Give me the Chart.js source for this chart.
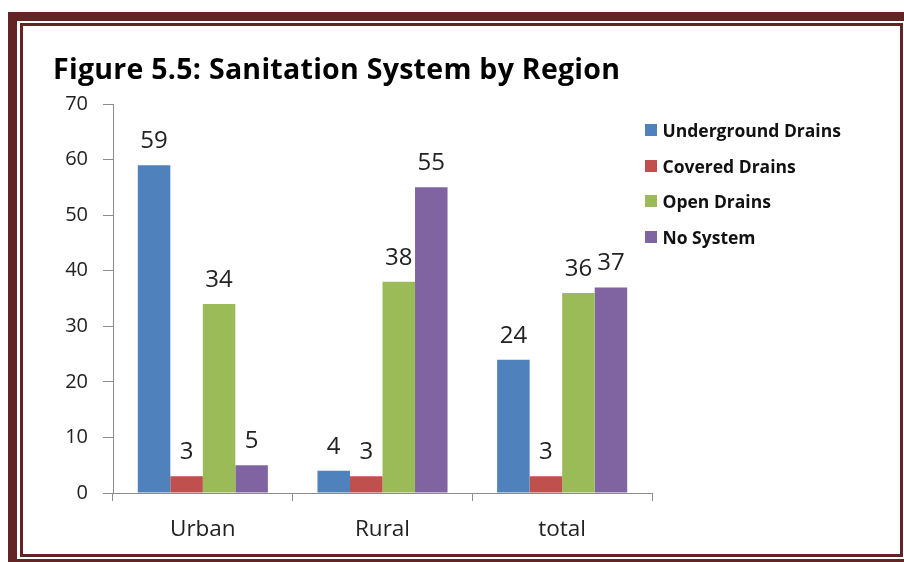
<!DOCTYPE html>
<html>
<head>
<meta charset="utf-8">
<script src="https://cdn.jsdelivr.net/npm/chart.js@4.4.1/dist/chart.umd.min.js"></script>
<style>
  html, body { margin: 0; padding: 0; background: #fff; }
  body { width: 904px; height: 562px; position: relative; overflow: hidden; font-family: "Open Sans", Lato, sans-serif; }
  .frame-outer { position: absolute; left: 8px; top: 12px; width: 920px; height: 556px; box-sizing: border-box; border: 9px solid #632523; }
  .frame-inner { position: absolute; left: 20px; top: 23px; width: 883px; height: 534px; box-sizing: border-box; border: 3px solid #632523; }
  #title { position: absolute; left: 53px; top: 54px; font-weight: 700; font-size: 28.5px; line-height: 28.5px; color: #000; white-space: nowrap; font-variant-ligatures: none; }
  #chartBox { position: absolute; left: 0; top: 0; width: 904px; height: 562px; }
  #legend { position: absolute; left: 645px; top: 112px; }
  .item { display: flex; align-items: center; height: 35.7px; font-weight: 700; font-size: 17.5px; color: #111; white-space: nowrap; }
  .swatch { width: 12px; height: 12px; margin-right: 5.5px; flex: none; }
</style>
</head>
<body>
<div class="frame-outer"></div>
<div class="frame-inner"></div>
<div id="chartBox"><canvas id="c" width="904" height="562"></canvas></div>
<div id="title">Figure 5.5: Sanitation System by Region</div>
<div id="legend"></div>
<script>
// Regions on the x axis
const categories = ["Urban", "Rural", "total"];

// Share of households (%) by sanitation system
const undergroundDrains = [59, 4, 24];
const coveredDrains = [3, 3, 3];
const openDrains = [34, 38, 36];
const noSystem = [5, 55, 37];

const seriesNames = ["Underground Drains", "Covered Drains", "Open Drains", "No System"];
const seriesColors = ["#4F81BD", "#C0504D", "#9BBB59", "#8064A2"];

// Y axis range and step
const yMin = 0;
const yMax = 70;
const yStep = 10;

const seriesValues = [undergroundDrains, coveredDrains, openDrains, noSystem];
const FONT = "'Open Sans', Lato, sans-serif";

// Write value labels above each bar
const valueLabels = {
  id: "valueLabels",
  afterDatasetsDraw(chart) {
    const ctx = chart.ctx;
    ctx.save();
    ctx.font = "24px " + FONT;
    ctx.fillStyle = "#222";
    ctx.textAlign = "center";
    ctx.textBaseline = "alphabetic";
    chart.data.datasets.forEach((ds, i) => {
      const meta = chart.getDatasetMeta(i);
      meta.data.forEach((bar, j) => {
        ctx.fillText(String(ds.data[j]), bar.x, bar.y - 17);
      });
    });
    ctx.restore();
  }
};

const chart = new Chart(document.getElementById("c"), {
  type: "bar",
  data: {
    labels: categories,
    datasets: seriesValues.map((vals, i) => ({
      label: seriesNames[i],
      data: vals,
      backgroundColor: seriesColors[i],
      borderWidth: 0,
      categoryPercentage: 0.724,
      barPercentage: 1.0
    }))
  },
  options: {
    responsive: false,
    animation: false,
    layout: { padding: { top: 104, right: 252, bottom: 0, left: 0 } },
    plugins: {
      legend: { display: false },
      title: { display: false },
      tooltip: { enabled: false }
    },
    scales: {
      x: {
        offset: true,
        grid: { offset: true, drawOnChartArea: false, drawTicks: true, tickLength: 8, color: "#8c8c8c", lineWidth: 1 },
        border: { color: "#8c8c8c", width: 1 },
        ticks: { font: { family: FONT, size: 22.5 }, color: "#222", padding: 15 },
        afterFit(scale) { scale.height = 69; }
      },
      y: {
        min: yMin,
        max: yMax,
        grid: { drawOnChartArea: false, drawTicks: true, tickLength: 10, color: "#8c8c8c", lineWidth: 1 },
        border: { color: "#8c8c8c", width: 1 },
        ticks: { stepSize: yStep, font: { family: FONT, size: 20 }, color: "#222", padding: 15 },
        afterFit(scale) { scale.width = 113; }
      }
    }
  },
  plugins: [valueLabels]
});

// Legend entries to the right of the plot
const legend = document.getElementById("legend");
seriesNames.forEach((name, i) => {
  const row = document.createElement("div");
  row.className = "item";
  const sw = document.createElement("span");
  sw.className = "swatch";
  sw.style.background = seriesColors[i];
  const tx = document.createElement("span");
  tx.textContent = name;
  row.appendChild(sw);
  row.appendChild(tx);
  legend.appendChild(row);
});

// Stretch the heading's tracking so it spans the intended width
const title = document.getElementById("title");
const titleText = title.textContent;
const natural = title.getBoundingClientRect().width;
const targetWidth = 567;
title.style.letterSpacing = ((targetWidth - natural) / (titleText.length - 1)) + "px";
</script>
</body>
</html>
